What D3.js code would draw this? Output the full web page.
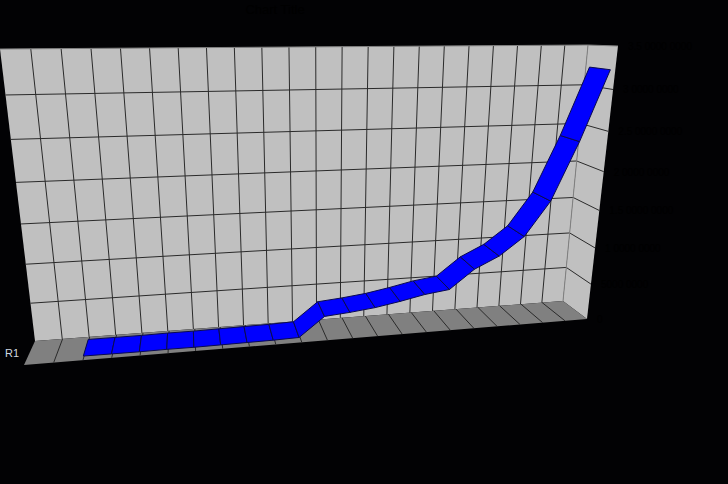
<!DOCTYPE html>
<html><head><meta charset="utf-8">
<style>html,body{margin:0;padding:0;background:#020204}svg{display:block}text{font-family:"Liberation Sans",Arial,sans-serif}</style>
<script src="https://d3js.org/d3.v7.min.js"></script></head>
<body><svg id="c" width="728" height="484"></svg>
<script>
const title = "Chart Title";
const seriesLabel = "R1";
const tickLabels = ["0","5000 0000","1 0000 0000","1.5 0000 0000","2 0000 0000","2.5 0000 0000","3 0000 0000","3.5 0000 0000"];
const categories = ["C1","C2","C3","C4","C5","C6","C7","C8","C9","C10","C11","C12","C13","C14","C15","C16","C17","C18","C19","C20","C21"];
const values = [0.01,0.01,0.01,0.02,0.02,0.03,0.04,0.05,0.07,0.58,0.64,0.72,0.84,0.98,1.07,1.57,1.88,2.36,3.25,4.73,6.46];

const W = 728, H = 484, N = 22, M = 7;
const uScale = d3.scaleLinear().domain([0, N]).range([0, 1]);
const vScale = d3.scaleLinear().domain([0, M]).range([0, 1]);

function homography(q){
  const [[x0,y0],[x1,y1],[x2,y2],[x3,y3]] = q;
  const dx1=x1-x2, dx2=x3-x2, sx=x0-x1+x2-x3, dy1=y1-y2, dy2=y3-y2, sy=y0-y1+y2-y3;
  const den=dx1*dy2-dx2*dy1;
  const g=(sx*dy2-dx2*sy)/den, h=(dx1*sy-sx*dy1)/den;
  const a=x1-x0+g*x1, b=x3-x0+h*x3, d=y1-y0+g*y1, e=y3-y0+h*y3;
  return (s,t)=>{const w=g*s+h*t+1;return [(a*s+b*t+x0)/w,(d*s+e*t+y0)/w];};
}
const backQuad = [[35,341],[563,301],[588,45],[0,49]];
const floorQuad = [[35,341],[563,301],[587,319],[24,365]];
const frontBottom = [587,319], frontTop = [618,46];
const sideQuad = [backQuad[1],frontBottom,frontTop,backQuad[2]];
const depthVanish = [184,16], depthGain = 0.07;
const back = homography(backQuad), floor = homography(floorQuad);
const edgeT = t => t/(t+(1-t)*1.137);
const frontEdge = t => d3.interpolateArray(frontBottom,frontTop)(edgeT(t));
const side = (s,t) => d3.interpolateArray(back(1,t),frontEdge(t))(s);
// point on the wall pushed toward the viewer along the depth lines
const at = (s,t,w) => {
  const p = back(s,t), m = 1 + depthGain*w;
  return [depthVanish[0]+(p[0]-depthVanish[0])*m, depthVanish[1]+(p[1]-depthVanish[1])*m];
};

const svg = d3.select("#c");
const line = d3.line();
const poly = p => line(p)+"Z";
const grid = "#2a2a2a", wall = "#c0c0c0", ground = "#808080";
svg.append("path").attr("d",poly(backQuad)).attr("fill",wall);
svg.append("path").attr("d",poly(sideQuad)).attr("fill",wall);
svg.append("path").attr("d",poly(floorQuad)).attr("fill",ground);

const lines = [];
d3.range(1,N).forEach(i=>{const s=uScale(i); lines.push([back(s,0),back(s,1)]); lines.push([floor(s,0),floor(s,1)]);});
d3.range(1,M).forEach(j=>{const t=vScale(j); lines.push([back(0,t),back(1,t)]); lines.push([side(0,t),side(1,t)]);});
svg.append("g").selectAll("path").data(lines).join("path").attr("d",d=>line(d))
  .attr("stroke",grid).attr("stroke-width",1).attr("fill","none");
svg.append("path").attr("d",line([back(1,0),back(1,1)])).attr("stroke","#808080").attr("fill","none");
svg.append("path").attr("d",line([back(0,1),back(1,1),frontTop])).attr("stroke","#808080").attr("fill","none");

const d0=0.13,d1=0.87;
const pts = values.map((v,i)=>({s:uScale(i+2),t:vScale(v)}));
svg.append("g").selectAll("path").data(d3.pairs(pts)).join("path")
  .attr("d",([a,b])=>poly([at(a.s,a.t,d0),at(b.s,b.t,d0),at(b.s,b.t,d1),at(a.s,a.t,d1)]))
  .attr("fill","#0000ff").attr("stroke","#0a0a50").attr("stroke-width",1);

svg.append("text").attr("x",275).attr("y",14).attr("text-anchor","middle").attr("font-size",13).attr("fill","#000").text(title);
svg.append("text").attr("x",5).attr("y",357).attr("font-size",11).attr("fill","#d0d8e0").text(seriesLabel);
svg.append("g").selectAll("text").data(tickLabels).join("text")
  .attr("x",(d,i)=>frontEdge(vScale(i))[0]+10)
  .attr("y",(d,i)=>frontEdge(vScale(i))[1]+4)
  .attr("font-size",10).attr("fill","#000").text(d=>d);
</script></body></html>
